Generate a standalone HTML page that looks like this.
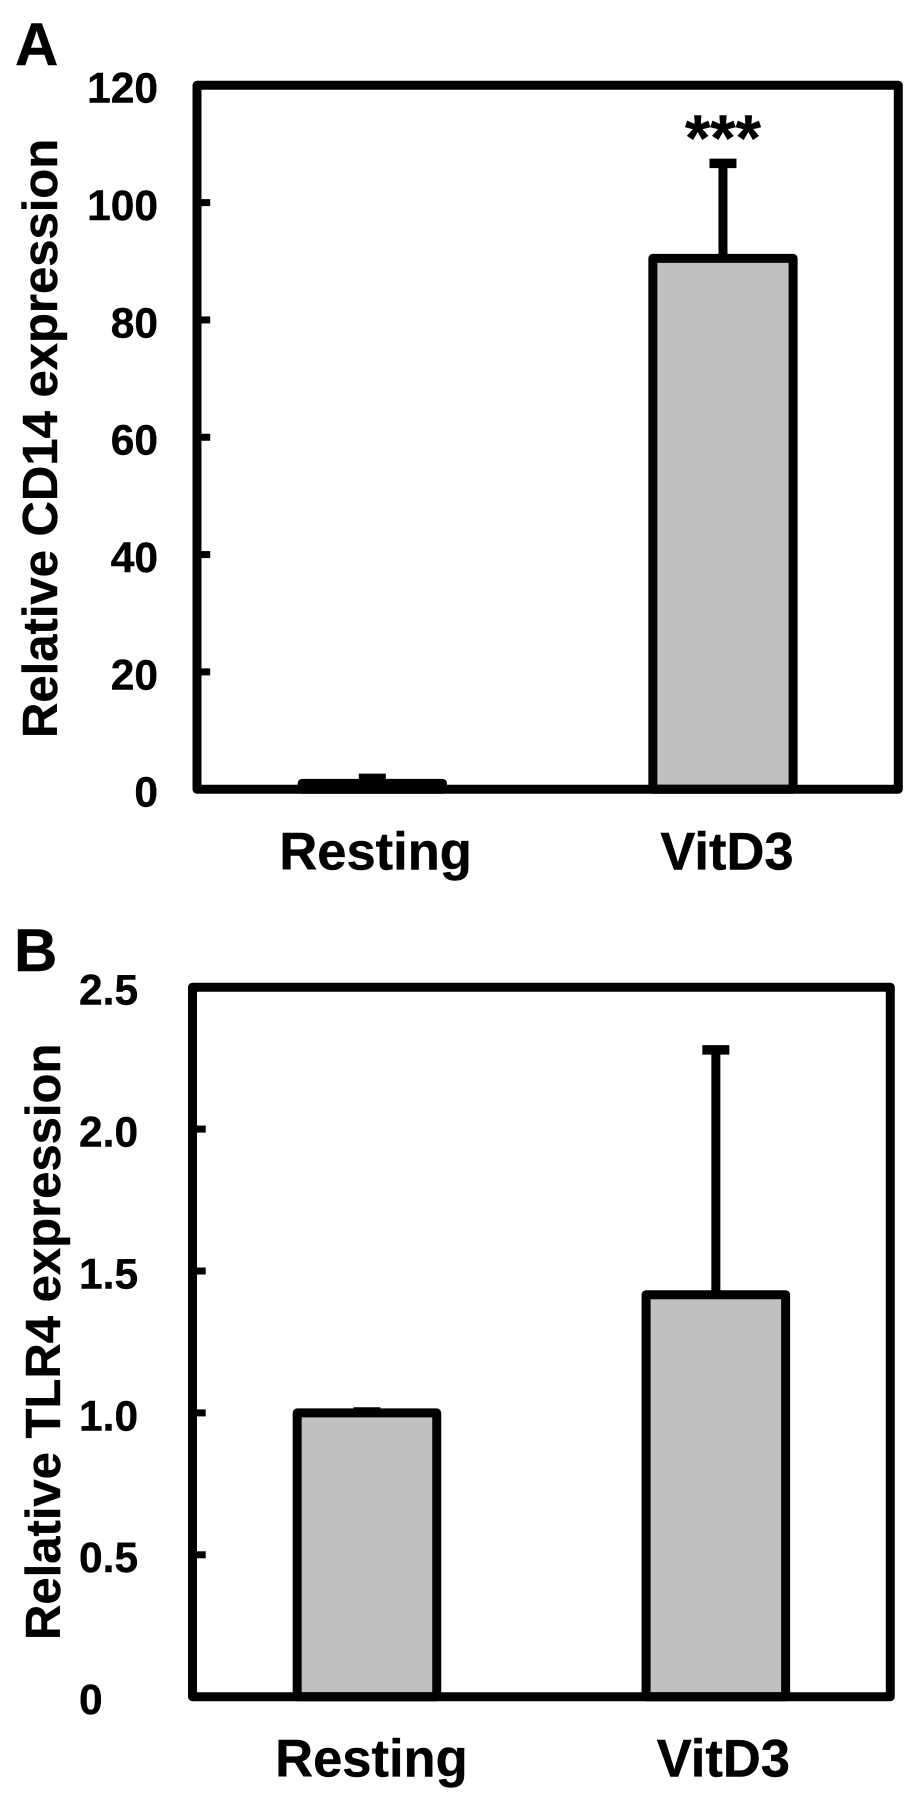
<!DOCTYPE html>
<html lang="en">
<head>
<meta charset="utf-8">
<title>Relative CD14 and TLR4 expression</title>
<style>
html,body{margin:0;padding:0;background:#fff;}
svg{display:block;}
text{font-family:"Liberation Sans",Arial,sans-serif;font-weight:700;fill:#000;stroke:#000;stroke-width:0.4px;}
</style>
</head>
<body>
<svg id="figure" width="908" height="1806" viewBox="0 0 908 1806" xmlns="http://www.w3.org/2000/svg">
  <rect x="0" y="0" width="908" height="1806" fill="#ffffff"/>
  <g id="panel-a"></g>
  <g id="panel-b"></g>
</svg>
<script>
// Data
const categories = ["Resting", "VitD3"];

const cd14Values = [1.0, 90.5];
const cd14ErrorTops = [1.85, 106.7];
const cd14TickValues = [0, 20, 40, 60, 80, 100, 120];
const cd14TickLabels = ["0", "20", "40", "60", "80", "100", "120"];
const cd14Significance = ["", "***"];

const tlr4Values = [1.0, 1.4165];
const tlr4ErrorTops = [1.003, 2.279];
const tlr4TickValues = [0, 0.5, 1.0, 1.5, 2.0, 2.5];
const tlr4TickLabels = ["0", "0.5", "1.0", "1.5", "2.0", "2.5"];
const tlr4Significance = ["", ""];

const SVG_NS = "http://www.w3.org/2000/svg";

function make(parent, tag, attrs, content) {
  const node = document.createElementNS(SVG_NS, tag);
  for (const key in attrs) node.setAttribute(key, attrs[key]);
  if (content !== undefined) node.textContent = content;
  parent.appendChild(node);
  return node;
}

function drawPanel(opts) {
  const g = document.getElementById(opts.id);
  const p = opts.plot;
  const yMax = opts.ticks[opts.ticks.length - 1];
  const yScale = v => p.bottom - (v / yMax) * (p.bottom - p.top);
  const band = (p.right - p.left) / opts.cats.length;
  const xCenter = i => p.left + (i + 0.5) * band;
  const barWidth = band * 0.4;
  const sw = 9;

  const letter = make(g, "text", {x: opts.letter.x, y: opts.letter.y, "font-size": 60}, opts.letter.text);
  
  

  const title = make(g, "text", {
    transform: "translate(" + opts.title.x + " " + opts.title.y + ") rotate(-90)",
    "font-size": opts.title.size
  }, opts.title.text);
  
  

  opts.ticks.forEach((v, i) => {
    const y = yScale(v);
    if (v !== 0 && v !== yMax) {
      const tick = make(g, "line", {x1: p.left, x2: p.left + 13.2, y1: y, y2: y, stroke: "#000", "stroke-width": 7});
      
      
    }
    const label = make(g, "text", {
      x: opts.tickLabel.x,
      y: y + opts.tickLabel.dy,
      "text-anchor": opts.tickLabel.anchor,
      "font-size": 42.5
    }, opts.tickLabels[i]);
    
    
  });

  opts.values.forEach((v, i) => {
    const cx = xCenter(i);
    const top = yScale(v);
    const errTop = yScale(opts.errors[i]);

    const stem = make(g, "line", {x1: cx, x2: cx, y1: top, y2: errTop, stroke: "#000", "stroke-width": sw});
    
    

    const cap = make(g, "line", {x1: cx - 13.5, x2: cx + 13.5, y1: errTop, y2: errTop, stroke: "#000", "stroke-width": 9.5});
    
    

    const bar = make(g, "rect", {
      x: cx - barWidth / 2, y: top, width: barWidth, height: p.bottom - top,
      fill: "#c0c0c0", stroke: "#000", "stroke-width": sw, "stroke-linejoin": "round"
    });
    
    

    const catLabel = make(g, "text", {
      x: cx + opts.catLabel.dx[i], y: opts.catLabel.y,
      "text-anchor": "middle", "font-size": 52.5
    }, opts.cats[i]);
    
    

    if (opts.significance[i]) {
      const stars = make(g, "text", {
        x: cx, y: errTop - 3, "text-anchor": "middle", "font-size": 65
      }, opts.significance[i]);
      
      
    }
  });

  const frame = make(g, "rect", {
    x: p.left, y: p.top, width: p.right - p.left, height: p.bottom - p.top,
    fill: "none", stroke: "#000", "stroke-width": sw, "stroke-linejoin": "round"
  });
  
  
}

drawPanel({
  id: "panel-a",
  plot: {left: 197, right: 898.3, top: 85.3, bottom: 789.2},
  cats: categories,
  values: cd14Values,
  errors: cd14ErrorTops,
  ticks: cd14TickValues,
  tickLabels: cd14TickLabels,
  significance: cd14Significance,
  letter: {text: "A", x: 15, y: 65},
  title: {text: "Relative CD14 expression", x: 57, y: 738, size: 49},
  tickLabel: {x: 158, dy: 17.4, anchor: "end"},
  catLabel: {y: 869.3, dx: [3.3, 4]}
});

drawPanel({
  id: "panel-b",
  plot: {left: 192.5, right: 890.3, top: 987.2, bottom: 1696.7},
  cats: categories,
  values: tlr4Values,
  errors: tlr4ErrorTops,
  ticks: tlr4TickValues,
  tickLabels: tlr4TickLabels,
  significance: tlr4Significance,
  letter: {text: "B", x: 14, y: 971},
  title: {text: "Relative TLR4 expression", x: 60, y: 1640, size: 49},
  tickLabel: {x: 79, dy: 17.4, anchor: "start"},
  catLabel: {y: 1776.7, dx: [4.5, 7.5]}
});
</script>
</body>
</html>
